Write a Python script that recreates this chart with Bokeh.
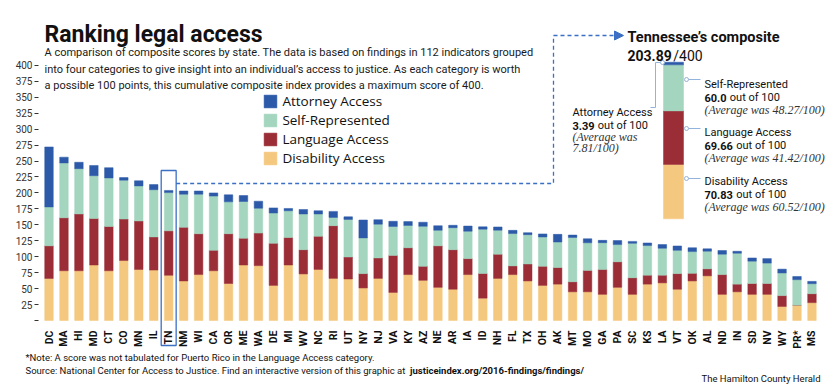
import math
from bokeh.plotting import figure
from bokeh.models import (Range1d, LinearAxis, FixedTicker, Label, Legend, LegendItem,
                          BoxAnnotation, Arrow, NormalHead, ColumnDataSource)
from bokeh.embed import file_html
from bokeh.resources import INLINE

# ---------------- data ----------------
states = ["DC", "MA", "HI", "MD", "CT", "CO", "MN", "IL", "TN", "NM", "WI", "CA", "OR", "ME",
          "WA", "DE", "MI", "WV", "NC", "RI", "UT", "NY", "NJ", "VA", "KY", "AZ", "NE", "AR",
          "IA", "ID", "NH", "FL", "TX", "OH", "AK", "MT", "MO", "GA", "PA", "SC", "KS", "LA",
          "VT", "OK", "AL", "ND", "IN", "SD", "NV", "WY", "PR*", "MS"]
disability = [66, 78, 78, 87, 78, 94, 80, 79, 70.83, 62,
              72, 78, 58, 87, 86, 55, 87, 73, 80, 66,
              65, 51, 66, 44, 72, 63, 52, 49, 72, 35,
              66, 72, 62, 55, 57, 45, 45, 41, 52, 41,
              57, 59, 49, 62, 70, 41, 45, 41, 41, 22,
              24, 28]
language = [51, 83, 89, 73, 69.5, 65, 76, 52, 69.66, 84,
            64, 32, 78, 42, 51, 66, 43, 38, 52, 82.6,
            34.5, 22.5, 32, 58, 42, 22, 65, 62, 25, 38.7,
            38, 13.6, 26.6, 30, 26, 15.7, 33.5, 39, 40, 26,
            14, 12, 24.5, 12, 11, 31, 12, 17, 17, 17,
            0, 14]
self_rep = [61, 86, 71, 67, 76, 61, 55, 74, 60.0, 52,
            62, 85, 50, 57.5, 39, 47.5, 42, 56, 35, 13,
            59, 56, 53, 45.5, 35, 62.7, 24.5, 34.5, 43, 69.5,
            37.6, 50.7, 46, 46, 40, 69.5, 43.3, 42, 27, 54,
            46.5, 42.3, 36.5, 34, 27.7, 32, 48.5, 35, 32, 35.5,
            40, 15.7]
attorney = [94, 9, 10, 16, 16, 4, 8, 8, 3.39, 5,
            5, 5, 11, 9.4, 11, 8, 3.6, 7, 5, 9.4,
            4, 28, 7, 8, 6, 6.3, 7, 3.7, 8, 3.6,
            5, 5, 3, 4.7, 12, 3.7, 6.3, 3.6, 6.3, 3,
            4, 5.7, 6.8, 6, 3.6, 5.7, 3, 5, 7, 6,
            5, 3.6]
series = ["Disability Access", "Language Access", "Self-Represented", "Attorney Access"]
y_ticks = list(range(0, 401, 25))

tn_total = "203.89"
tn_avgs = {"Attorney Access": "7.81", "Self-Represented": "48.27",
           "Language Access": "41.42", "Disability Access": "60.52"}

# ---------------- style ----------------
C_DIS, C_LANG, C_SELF, C_ATT = "#f4c87e", "#9b2d37", "#a3d5bf", "#2c5aa8"
C_LINK = "#3b6fc6"
C_LEAD = "#93b2dc"
SANS = "Roboto"
SERIF = "Liberation Serif"
LEGF = "Open Sans"

W, H = 836, 384                 # the frame fills the whole canvas
ZERO_IMG = 320                  # pixel row of value 0
AXIS_X_IMG = 38                 # pixel column of the value axis
PX_STATE = 14.96
PX_UNIT = 0.638
FIRST_C = 48.5

x_start = -FIRST_C / PX_STATE
x_end = x_start + W / PX_STATE


def dx(ix):
    return x_start + ix / PX_STATE


def dy(iy):
    return (ZERO_IMG - iy) / PX_UNIT


p = figure(width=W, height=H, x_range=Range1d(x_start, x_end),
           y_range=Range1d(dy(H), dy(0)),
           output_backend="svg", toolbar_location=None, x_axis_type=None, y_axis_type=None,
           min_border_left=0, min_border_right=0, min_border_top=0, min_border_bottom=0,
           title=None)
p.outline_line_color = None
p.background_fill_color = "white"

yaxis = LinearAxis(ticker=FixedTicker(ticks=y_ticks), fixed_location=dx(AXIS_X_IMG),
                   major_label_overrides={0: ""},
                   axis_line_color=None, major_tick_in=0, major_tick_out=4,
                   major_tick_line_color="#333", minor_tick_line_color=None,
                   major_label_standoff=2, major_label_text_font=SANS,
                   major_label_text_font_size="10px", major_label_text_color="#333")
p.add_layout(yaxis, "left")

idx = list(range(len(states)))
xaxis = LinearAxis(ticker=FixedTicker(ticks=idx), fixed_location=0,
                   major_label_overrides={i: s for i, s in zip(idx, states)},
                   major_label_orientation=math.pi / 2, axis_line_color=None,
                   major_tick_line_color=None, minor_tick_line_color=None,
                   major_label_standoff=4, major_label_text_font=SANS,
                   major_label_text_font_style="bold", major_label_text_font_size="10.5px",
                   major_label_text_color="#111")
p.add_layout(xaxis, "below")

src = ColumnDataSource(dict(x=idx, dis=disability, lang=language, selfr=self_rep, att=attorney))
colors = [C_DIS, C_LANG, C_SELF, C_ATT]
rs = p.vbar_stack(["dis", "lang", "selfr", "att"], x="x", width=0.57, source=src,
                  fill_color=colors, line_color=colors, line_width=0.5)

legend = Legend(items=[LegendItem(label=series[i], renderers=[rs[i]]) for i in (3, 2, 1, 0)],
                location=(264 - 1.6, H - 167), orientation="vertical",
                glyph_width=16, glyph_height=16, label_height=16, spacing=1,
                label_standoff=4, padding=0, margin=0, border_line_color=None,
                background_fill_alpha=0, label_text_font=LEGF, label_text_font_size="13.5px",
                label_text_color="#111")
p.add_layout(legend, "center")

# ---------------- TN highlight + connector ----------------
tn = states.index("TN")
p.add_layout(BoxAnnotation(left=tn - 0.5, right=tn + 0.5, bottom=dy(345), top=dy(170),
                           fill_alpha=0, line_color=C_LINK, line_alpha=1, line_width=1.3))
p.line([tn + 0.5, dx(553), dx(553)], [dy(183), dy(183), dy(35)], line_color=C_LINK,
       line_width=1.3, line_dash="4 3")
p.add_layout(Arrow(x_start=dx(553), y_start=dy(35), x_end=dx(623), y_end=dy(35),
                   line_color=C_LINK, line_width=1.3, line_dash="4 3",
                   end=NormalHead(size=9, fill_color=C_LINK, line_color=C_LINK)))

# ---------------- inset composite bar for TN ----------------
IN_BASE, IN_UNIT = 218.3, 0.768
p.extra_y_ranges = {"inset": Range1d(-(H - IN_BASE) / IN_UNIT, IN_BASE / IN_UNIT)}
tn_src = ColumnDataSource(dict(x=[dx(673)], dis=[disability[tn]], lang=[language[tn]],
                               selfr=[self_rep[tn]], att=[attorney[tn]]))
p.vbar_stack(["dis", "lang", "selfr", "att"], x="x", width=20 / PX_STATE, source=tn_src,
             y_range_name="inset", fill_color=colors, line_color=colors, line_width=0.5)

# leader lines
for ya in (79, 128, 178):
    p.line([dx(686), dx(700)], [dy(ya), dy(ya)], line_color=C_LEAD, line_width=1)
    p.scatter([dx(686)], [dy(ya)], size=4, fill_color="white", line_color=C_LEAD)
p.line([dx(662), dx(655), dx(655), dx(650)], [dy(62), dy(62), dy(107), dy(107)],
       line_color=C_LEAD, line_width=1)
p.scatter([dx(662)], [dy(62)], size=4, fill_color="white", line_color=C_LEAD)


def est_w(text, size, bold=False):
    w = 0.0
    for ch in text:
        if ch in "il.,:;'|!\u2019":
            w += 0.25
        elif ch == " ":
            w += 0.25
        elif ch in "mwMW":
            w += 0.85
        elif ch in "rtf/-":
            w += 0.36
        elif ch.isdigit():
            w += 0.56
        elif ch.isupper():
            w += 0.64
        else:
            w += 0.53
    return w * size * (1.05 if bold else 1.0)


def T(text, ix, iy, size, font=SANS, style="normal", color="#111", align="left"):
    p.add_layout(Label(x=dx(ix), y=dy(iy), text=text, text_font=font,
                       text_font_size=f"{size}px", text_font_style=style, text_color=color,
                       text_align=align, text_baseline="alphabetic"))


# title / subtitle
T("Ranking legal access", 44, 34, 23, style="bold")
sub = ["A comparison of composite scores by state. The data is based on findings in 112 indicators grouped",
       "into four categories to give insight into an individual\u2019s access to justice. As each category is worth",
       "a possible 100 points, this cumulative composite index provides a maximum score of 400."]
for k, line in enumerate(sub):
    T(line, 44, 52 + k * 16.5, 11, color="#1a1a1a")

# inset texts
T("Tennessee\u2019s composite", 627, 37, 14.5, style="bold")
T(tn_total, 627, 55, 14, style="bold")
T("/400", 627 + est_w(tn_total, 14, True) + 1, 55, 14)

blocks = [("Self-Represented", self_rep[tn], 84),
          ("Language Access", language[tn], 132),
          ("Disability Access", disability[tn], 181)]
for name, val, base in blocks:
    T(name, 704, base, 11)
    vs = "60.0" if val == 60.0 else f"{val:.2f}"
    T(vs, 704, base + 13, 11, style="bold")
    T("out of 100", 704 + est_w(vs, 11, True) + 3, base + 13, 11)
    T(f"(Average was {tn_avgs[name]}/100)", 704, base + 25, 12, font=SERIF,
      style="italic", color="#333")

att_s = f"{attorney[tn]:.2f}"
T("Attorney Access", 572, 112, 11)
T(att_s, 572, 125, 11, style="bold")
T("out of 100", 572 + est_w(att_s, 11, True) + 3, 125, 11)
T("(Average was", 572, 136, 12, font=SERIF, style="italic", color="#333")
T(f"{tn_avgs['Attorney Access']}/100)", 572, 147, 12, font=SERIF, style="italic", color="#333")

# footnotes
T("*Note: A score was not tabulated for Puerto Rico in the Language Access category.", 25, 357, 9.5)
src_txt = "Source: National Center for Access to Justice. Find an interactive version of this graphic at "
T(src_txt, 25, 370, 9.5)
T("justiceindex.org/2016-findings/findings/", 25 + est_w(src_txt, 9.5), 370, 9.5, style="bold")
T("The Hamilton County Herald", 820, 378, 9.5, align="right")

open("out.html", "w").write(file_html(p, INLINE))
